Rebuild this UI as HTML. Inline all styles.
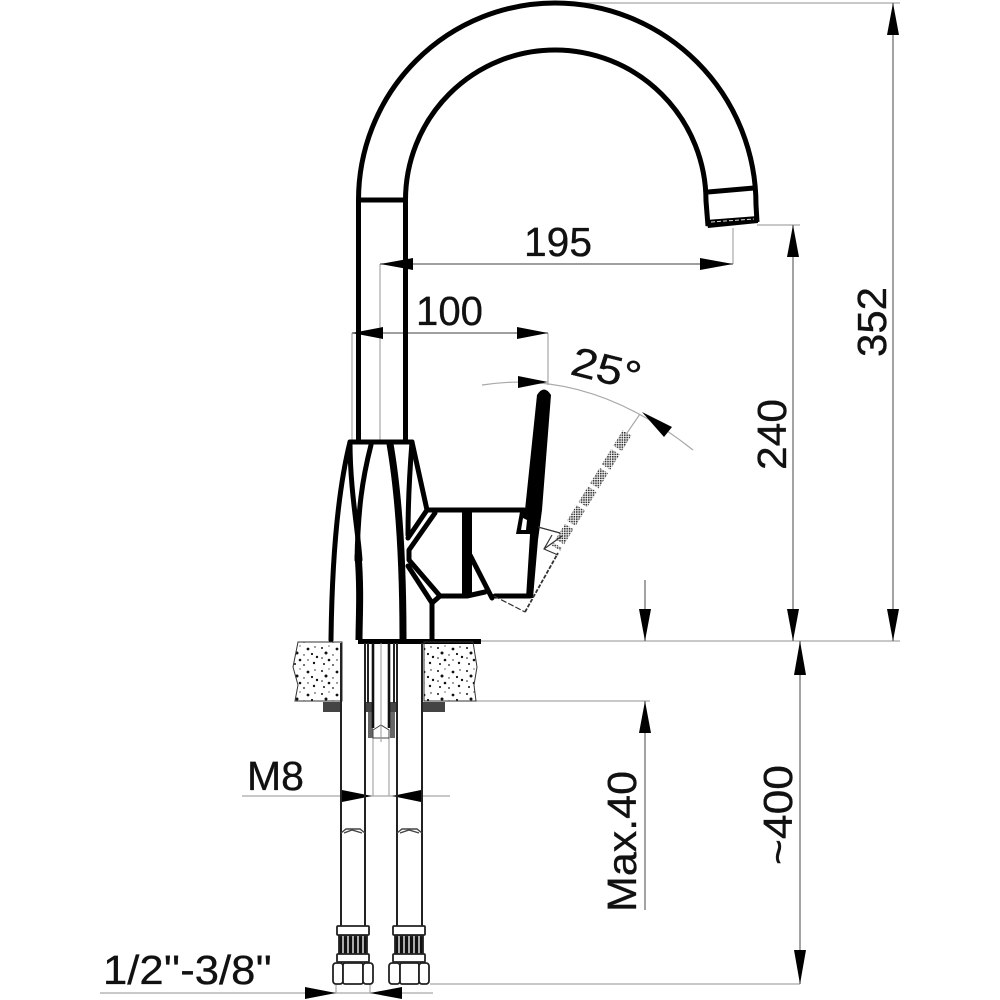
<!DOCTYPE html>
<html><head><meta charset="utf-8"><style>html,body{margin:0;padding:0;background:#fff}svg{display:block}text{font-family:"Liberation Sans",sans-serif;font-size:41px;fill:#111;stroke:#111;stroke-width:.35}</style></head>
<body>
<svg width="1000" height="1000" viewBox="0 0 1000 1000" xmlns="http://www.w3.org/2000/svg">
<defs>
<pattern id="sp" width="29" height="23" patternUnits="userSpaceOnUse">
<g fill="#111"><circle cx="3" cy="4" r="1"/><circle cx="10" cy="2" r=".6"/><circle cx="18" cy="5" r="1.4"/><circle cx="25" cy="3" r=".7"/><circle cx="7" cy="9" r="1.5"/><circle cx="14" cy="11" r=".7"/><circle cx="22" cy="10" r="1.1"/><circle cx="27" cy="13" r="1.2"/><circle cx="3" cy="14" r=".8"/><circle cx="10" cy="16" r="1.3"/><circle cx="18" cy="16" r=".7"/><circle cx="24" cy="19" r="1.2"/><circle cx="5" cy="20" r="1"/><circle cx="14" cy="21" r=".9"/></g>
</pattern>
<pattern id="hatch" width="2.4" height="2.4" patternUnits="userSpaceOnUse"><rect width="2.4" height="2.4" fill="#fff"/><rect width="1.6" height="1.6" fill="#333"/></pattern>
</defs>

<!-- thin dimension lines -->
<g stroke="#a8a8a8" stroke-width="1.2" fill="none">
<path d="M555 3H900M757 225H800M480 641H900M476 701H650M733 228V264M380 264V440M352 333V440M548 333V385M640 414L625 436M242 796H450M373 738V796M389 738V796M430 984H800M336 984V993M370 984V993M100 993H433M482 385Q590 368 693 450"/>
</g>
<g stroke="#666" stroke-width="1.2" fill="none">
<path d="M893 3V641M793 225V641M380 264H733M352 333H548M645 580V641M645 701V910M800 641V984"/>
</g>

<!-- arrowheads -->
<g fill="#000">
<path d="M893 3L887 35H899Z"/><path d="M893 641L887 609H899Z"/>
<path d="M793 225L787 257H799Z"/><path d="M793 641L787 609H799Z"/>
<path d="M380 264L413 258V270Z"/><path d="M733 264L700 258V270Z"/>
<path d="M352 333L383 327V339Z"/><path d="M548 333L517 327V339Z"/>
<path d="M548 382L518 376V388Z"/><path d="M642 412L672 427L664 437Z"/>
<path d="M645 641L639 609H651Z"/><path d="M645 701L639 733H651Z"/>
<path d="M800 641L794 675H806Z"/><path d="M800 984L794 950H806Z"/>
<path d="M372 796L342 790V802Z"/><path d="M392 796L421 790V802Z"/>
<path d="M336 993L305 987V999Z"/><path d="M370 993L402 987V999Z"/>
</g>

<!-- spout -->
<g fill="none" stroke="#000" stroke-width="5">
<path d="M358.5 440V200A196.5 197 0 0 1 555 3A201 202 0 0 1 756 205L757 222"/>
<path d="M405.5 440V200A149.5 150 0 0 1 555 50A151 151 0 0 1 706 201L708 226"/>
<path d="M358 200H405"/>
<path d="M708 192L754 188"/>
</g>
<path d="M706 220L758 216L758 223L708 228Z" fill="#000"/>
<path d="M711 222L754 219" stroke="#ddd" stroke-width="1" stroke-dasharray="4 2"/>

<!-- body -->
<g fill="none" stroke="#000" stroke-width="5" stroke-linecap="round" stroke-linejoin="round">
<path d="M350 442H412"/>
<path d="M331 640C332 560 338 490 350 442"/>
<path d="M350 442C350 490 358 530 360 560"/>
<path d="M371 445C362 480 358 510 357 560"/>
<path d="M412 442L427 510"/>
<path d="M412 442C409 480 408 510 408 535"/>
<path d="M427 510H524"/>
<path d="M427 510L408 538"/>
<path d="M435 513L409 550L409 560L440 596L432 603L408 566"/>
<path d="M440 596H467L485 592"/>
<path d="M432 604V640"/>
<path d="M470 555L492 598"/>
<path d="M495 596H530"/>
</g>
<g fill="none" stroke="#000" stroke-width="7">
<path d="M358 555C361 590 359 620 359 640"/>
<path d="M390 444C398 490 403 550 403 640"/>
</g>
<path d="M462 510H472V597H462Z" fill="#000"/>
<path d="M358 639H481V644H358Z" fill="#000"/>
<!-- lever -->
<path d="M537 395Q544 384 551 395L542 510L538 540L533 598H526L530 535L525 510Z" fill="#000"/>
<path d="M520 512L516 534H532L535 512Z" fill="#000"/>
<path d="M523 518L521 530H526L527 520Z" fill="#fff"/>

<!-- dashed lever -->
<path d="M627 433L556 548" fill="none" stroke="url(#hatch)" stroke-width="10" stroke-dasharray="18 4"/>
<g fill="none" stroke="#333" stroke-width="1.2">
<path d="M494 596L525 612" stroke-dasharray="6 2"/>
<path d="M525 612L558 553" stroke-dasharray="4 1.5" stroke-width="1.8"/>
<path d="M538 527L560 533M552 535L544 549L558 555M544 549L562 536"/>
</g>

<!-- counter -->
<path d="M298 642H342V701H295L298 685L293 667Z" fill="url(#sp)" stroke="#333" stroke-width="1"/>
<path d="M424 642H473L477 667L474 685L476 701H424Z" fill="url(#sp)" stroke="#333" stroke-width="1"/>
<rect x="323" y="702" width="18" height="10" fill="#444"/>
<rect x="423" y="702" width="22" height="10" fill="#444"/>
<rect x="365" y="702" width="8" height="10" fill="#444"/>
<rect x="390" y="702" width="7" height="10" fill="#444"/>
<rect x="368" y="712" width="5" height="26" fill="#666"/>
<rect x="390" y="712" width="5" height="26" fill="#666"/>
<path d="M373 738H389V730L381 725L373 730Z" fill="#fff" stroke="#444" stroke-width="1"/>

<!-- pipes -->
<g fill="none" stroke="#222" stroke-width="2">
<path d="M341 643V926M365 643V926M397 643V926M422 643V926"/>
<path d="M368 643V703M394 643V703"/>
</g>
<path d="M373 643V728M389 643V728" stroke="#111" stroke-width="2.6"/>
<path d="M381 643V742" stroke="#999" stroke-width="1"/>
<g fill="none" stroke="#444" stroke-width="1.4">
<path d="M341 833L346 829H360L365 833"/>
<path d="M344 833L352 830L362 833"/>
<path d="M397 833L402 829H417L422 833"/>
<path d="M400 833L409 830L419 833"/>
</g>

<!-- fittings -->
<g fill="#fff" stroke="#222" stroke-width="1.8">
<rect x="337" y="926" width="32" height="9" rx="1"/>
<rect x="339" y="936" width="28" height="18" fill="#111"/>
<path d="M343 936V954M348 936V954M353 936V954M358 936V954M363 936V954" stroke="#bbb" stroke-width="1.8"/>
<rect x="337" y="954" width="32" height="8" rx="1"/>
<rect x="333" y="963" width="10" height="21" rx="3"/>
<rect x="343" y="963" width="20" height="21" rx="2"/>
<rect x="363" y="963" width="10" height="21" rx="3"/>
<rect x="393" y="926" width="32" height="9" rx="1"/>
<rect x="395" y="936" width="28" height="18" fill="#111"/>
<path d="M399 936V954M404 936V954M409 936V954M414 936V954M419 936V954" stroke="#bbb" stroke-width="1.8"/>
<rect x="393" y="954" width="32" height="8" rx="1"/>
<rect x="389" y="963" width="11" height="21" rx="3"/>
<rect x="400" y="963" width="19" height="21" rx="2"/>
<rect x="419" y="963" width="10" height="21" rx="3"/>
</g>

<!-- labels -->
<text x="524" y="256" textLength="68" lengthAdjust="spacingAndGlyphs">195</text>
<text x="416" y="325" textLength="67" lengthAdjust="spacingAndGlyphs">100</text>
<text x="247" y="790" textLength="57" lengthAdjust="spacingAndGlyphs">M8</text>
<text x="103" y="984" textLength="169" lengthAdjust="spacingAndGlyphs">1/2''-3/8''</text>
<text transform="translate(886,357) rotate(-90)" textLength="70" lengthAdjust="spacingAndGlyphs">352</text>
<text transform="translate(786,470) rotate(-90)" textLength="71" lengthAdjust="spacingAndGlyphs">240</text>
<text transform="translate(636,912) rotate(-90)" textLength="141" lengthAdjust="spacingAndGlyphs">Max.40</text>
<text transform="translate(792,865) rotate(-90)" textLength="100" lengthAdjust="spacingAndGlyphs">~400</text>
<text transform="translate(569,374) rotate(14)" textLength="70" lengthAdjust="spacingAndGlyphs">25°</text>
</svg>
</body></html>
